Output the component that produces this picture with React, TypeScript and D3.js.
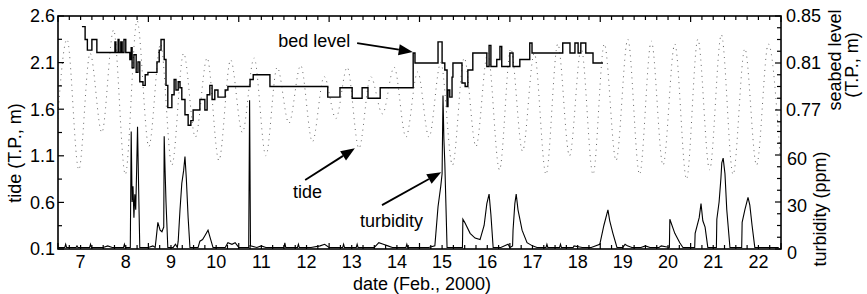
import React from 'react';
import * as d3 from 'd3';

// days of Feb. 2000 (label n sits at noon of day n)
const DAY_LABELS = [7, 8, 9, 10, 11, 12, 13, 14, 15, 16, 17, 18, 19, 20, 21, 22];
const TIDE_TICKS = [0.1, 0.6, 1.1, 1.6, 2.1, 2.6];
const SEABED_TICKS = [0.77, 0.81, 0.85];
const TURB_TICKS = [0, 30, 60];

// tide extrema [day, m T.P.]
const TIDE = [
  [6.95, 1.2], [7.2, 2.35], [7.46, 0.95], [7.71, 2.2], [7.97, 1.35], [8.23, 2.45], [8.49, 0.9],
  [8.75, 2.55], [9.01, 1.2], [9.27, 2.3], [9.52, 1.0], [9.78, 2.2], [10.04, 1.3], [10.3, 2.15],
  [10.56, 1.05], [10.82, 2.13], [11.08, 1.35], [11.34, 2.15], [11.6, 1.1], [11.85, 2.05],
  [12.11, 1.45], [12.37, 2.07], [12.63, 1.25], [12.89, 1.95], [13.15, 1.5], [13.4, 2.05],
  [13.66, 1.18], [13.92, 1.95], [14.18, 1.55], [14.44, 2.05], [14.7, 1.3], [14.96, 2.0],
  [15.21, 1.3], [15.47, 2.1], [15.73, 1.0], [15.99, 2.15], [16.25, 1.2], [16.51, 2.2],
  [16.77, 0.95], [17.02, 2.25], [17.28, 1.15], [17.54, 2.2], [17.8, 0.9], [18.06, 2.3],
  [18.32, 1.1], [18.58, 2.25], [18.84, 0.9], [19.09, 2.3], [19.35, 1.05], [19.61, 2.35],
  [19.87, 0.9], [20.13, 2.33], [20.39, 1.0], [20.65, 2.3], [20.91, 0.85], [21.16, 2.35],
  [21.42, 0.95], [21.68, 2.4], [21.94, 0.9], [22.2, 2.25], [22.46, 1.0], [22.72, 2.3], [22.98, 1.1],
];

// seabed level [day, m T.P.], stepped
const BED = [
  [7.53, 0.841], [7.6, 0.83], [7.65, 0.821], [7.75, 0.83], [7.86, 0.819], [8.26, 0.828],
  [8.28, 0.819], [8.33, 0.83], [8.35, 0.819], [8.39, 0.828], [8.42, 0.819], [8.46, 0.83],
  [8.5, 0.819], [8.59, 0.813], [8.62, 0.823], [8.64, 0.806], [8.68, 0.817], [8.73, 0.802],
  [8.77, 0.811], [8.81, 0.794], [8.88, 0.791], [8.93, 0.8], [8.99, 0.802], [9.19, 0.811],
  [9.24, 0.821], [9.28, 0.83], [9.35, 0.813], [9.39, 0.791], [9.43, 0.772], [9.52, 0.783],
  [9.57, 0.796], [9.61, 0.787], [9.66, 0.794], [9.7, 0.789], [9.74, 0.779], [9.81, 0.766],
  [9.88, 0.757], [9.94, 0.761], [9.99, 0.77], [10.14, 0.779], [10.25, 0.77], [10.3, 0.783],
  [10.36, 0.791], [10.41, 0.779], [10.47, 0.787], [10.54, 0.781], [10.7, 0.787], [10.76, 0.79],
  [11.25, 0.796], [11.32, 0.8], [11.69, 0.79], [12.97, 0.781], [13.24, 0.789], [13.51, 0.78],
  [13.73, 0.789], [13.86, 0.78], [14.13, 0.789], [14.86, 0.8185], [14.9, 0.81], [15.41, 0.828],
  [15.5, 0.81], [15.56, 0.804], [15.61, 0.773], [15.63, 0.787], [15.67, 0.781], [15.72, 0.798],
  [15.74, 0.81], [15.94, 0.793], [16.01, 0.79], [16.07, 0.804], [16.18, 0.8185], [16.49, 0.807],
  [16.54, 0.825], [16.58, 0.807], [16.71, 0.813], [16.78, 0.824], [16.82, 0.807], [17.0, 0.8185],
  [17.07, 0.807], [17.22, 0.813], [17.44, 0.827], [17.49, 0.8185], [18.17, 0.827], [18.33, 0.8185],
  [18.44, 0.827], [18.51, 0.8185], [18.57, 0.827], [18.68, 0.8185], [18.84, 0.81], [19.06, 0.81],
];

// turbidity [day, ppm]
const TURB = [
  [7.0, 1], [7.15, 1], [7.17, 3], [7.19, 1], [7.4, 1], [7.42, 2], [7.44, 1], [7.7, 1], [7.72, 3],
  [7.74, 1], [8.0, 1], [8.1, 2], [8.2, 1], [8.45, 1], [8.47, 3], [8.49, 1],
  [8.6, 1], [8.62, 75], [8.64, 30], [8.66, 40], [8.68, 20], [8.7, 35], [8.72, 25], [8.74, 50],
  [8.76, 78], [8.79, 30], [8.81, 1],
  [9.0, 1], [9.1, 2], [9.15, 1], [9.17, 6], [9.21, 17], [9.26, 12], [9.3, 11], [9.34, 14],
  [9.35, 72], [9.37, 50], [9.39, 30], [9.43, 1],
  [9.55, 1], [9.6, 3], [9.64, 1], [9.66, 5], [9.7, 25], [9.74, 42], [9.78, 50], [9.81, 59],
  [9.84, 45], [9.88, 20], [9.92, 1],
  [10.1, 1], [10.14, 5], [10.2, 6], [10.26, 9], [10.32, 12], [10.37, 7], [10.43, 1],
  [10.7, 1], [10.76, 4], [10.85, 3], [10.92, 4], [11.0, 1],
  [11.22, 1], [11.24, 95], [11.26, 2], [11.4, 1], [11.5, 2], [11.6, 1],
  [12.0, 1], [12.02, 4], [12.04, 1], [12.3, 1], [12.32, 3], [12.34, 1], [12.6, 1], [12.8, 2],
  [12.9, 3], [13.0, 1], [13.3, 1], [13.32, 3], [13.34, 1], [13.6, 1], [13.62, 3], [13.64, 1],
  [14.0, 1], [14.1, 4], [14.2, 3], [14.3, 2], [14.4, 1], [14.7, 1], [14.72, 3], [14.74, 1],
  [15.0, 1], [15.2, 1],
  [15.34, 2], [15.41, 27], [15.47, 40], [15.5, 48], [15.52, 98], [15.54, 70], [15.56, 55], [15.61, 1],
  [15.8, 1], [15.95, 1], [15.96, 19], [16.0, 17], [16.12, 10], [16.23, 7], [16.34, 6], [16.43, 15],
  [16.49, 29], [16.54, 35], [16.58, 22], [16.63, 1],
  [16.8, 1], [16.96, 3], [17.0, 1], [17.06, 2], [17.07, 12], [17.11, 29], [17.14, 35], [17.18, 25],
  [17.27, 12], [17.38, 4], [17.5, 2], [17.6, 1],
  [17.8, 1], [17.82, 3], [17.84, 1], [18.1, 1], [18.12, 3], [18.14, 1], [18.4, 1], [18.42, 2],
  [18.6, 1], [18.8, 1],
  [18.99, 3], [19.08, 15], [19.17, 25], [19.21, 18], [19.28, 10], [19.37, 1],
  [19.5, 1], [19.55, 3], [19.6, 2], [19.7, 1], [19.9, 1], [20.0, 2], [20.1, 1], [20.3, 1], [20.35, 2],
  [20.53, 1], [20.54, 19], [20.65, 10], [20.76, 4], [20.83, 1],
  [21.09, 1], [21.1, 10], [21.19, 20], [21.23, 29], [21.27, 18], [21.32, 14], [21.38, 1],
  [21.57, 1], [21.58, 19], [21.63, 30], [21.67, 45], [21.69, 55], [21.72, 58], [21.76, 48],
  [21.8, 25], [21.87, 1],
  [22.13, 1], [22.14, 17], [22.2, 25], [22.27, 33], [22.31, 28], [22.36, 15], [22.42, 1],
  [22.6, 1], [22.8, 1], [22.95, 1],
];

const W = 867;
const H = 294;
const M = { left: 58, right: 781, top: 16, bottom: 249 };
const FONT = '"Liberation Sans", Arial, Helvetica, sans-serif';

const x = d3.scaleLinear().domain([7, 23]).range([M.left, M.right]);
const yTide = d3.scaleLinear().domain([0.1, 2.6]).range([M.bottom, M.top]);
const ySeabed = d3.scaleLinear().domain([0.77, 0.85]).range([110, M.top]);
const yTurb = d3.scaleLinear().domain([0, 60]).range([M.bottom, 155]);

function Arrow({ x1, y1, x2, y2 }) {
  const a = Math.atan2(y2 - y1, x2 - x1);
  const len = 14, half = 5.5;
  const bx = x2 - len * Math.cos(a), by = y2 - len * Math.sin(a);
  const p1 = [bx + half * Math.sin(a), by - half * Math.cos(a)];
  const p2 = [bx - half * Math.sin(a), by + half * Math.cos(a)];
  return (
    <g>
      <line x1={x1} y1={y1} x2={bx} y2={by} stroke="#000" strokeWidth={1.8} />
      <polygon points={`${x2},${y2} ${p1.join(',')} ${p2.join(',')}`} fill="#000" />
    </g>
  );
}

export default function App() {
  const tideLine = d3.line().x((d) => x(d[0])).y((d) => yTide(d[1])).curve(d3.curveMonotoneX);
  const bedLine = d3.line().x((d) => x(d[0])).y((d) => ySeabed(d[1])).curve(d3.curveStepAfter);
  const turbLine = d3.line().x((d) => x(d[0])).y((d) => yTurb(d[1]));

  const sixHours = d3.range(7, 23.001, 0.25);
  const tideMinor = d3.range(0.1, 2.6001, 0.25);
  const seabedMinor = d3.range(0.76, 0.8501, 0.01);
  const turbMinor = d3.range(0, 75.01, 7.5);

  const fs = 18;

  return (
    <div style={{ position: 'absolute', left: 0, top: 0 }}>
      <svg width={W} height={H} style={{ display: 'block', background: '#fff' }}>
        <defs>
          <clipPath id="plot">
            <rect x={M.left} y={M.top} width={M.right - M.left} height={M.bottom - M.top} />
          </clipPath>
        </defs>

        <g clipPath="url(#plot)">
          <path d={tideLine(TIDE)} fill="none" stroke="#666" strokeWidth={1} strokeDasharray="1 4.5" />
          <path d={turbLine(TURB)} fill="none" stroke="#000" strokeWidth={1.1} />
          <path d={bedLine(BED)} fill="none" stroke="#000" strokeWidth={1.4} />
        </g>

        {/* frame */}
        <rect x={M.left} y={M.top} width={M.right - M.left} height={M.bottom - M.top}
          fill="none" stroke="#000" strokeWidth={1.6} />

        {/* x ticks, top & bottom, every 6 h */}
        {sixHours.map((d, i) => {
          const len = Math.abs(d - Math.round(d)) < 1e-6 && Math.round(d) % 2 === 1 ? 6 : 4;
          return (
            <g key={'xt' + i}>
              <line x1={x(d)} x2={x(d)} y1={M.top} y2={M.top + len} stroke="#000" strokeWidth={1.2} />
              <line x1={x(d)} x2={x(d)} y1={M.bottom} y2={M.bottom - len} stroke="#000" strokeWidth={1.2} />
            </g>
          );
        })}
        {DAY_LABELS.map((d) => (
          <text key={'xl' + d} x={x(d + 0.5)} y={268} textAnchor="middle" fontFamily={FONT} fontSize={fs}>{d}</text>
        ))}

        {/* left tide axis */}
        {tideMinor.map((v, i) => (
          <line key={'tm' + i} x1={M.left} x2={M.left + (i % 2 === 0 ? 6 : 4)} y1={yTide(v)} y2={yTide(v)} stroke="#000" strokeWidth={1.2} />
        ))}
        {TIDE_TICKS.map((v) => (
          <text key={'tl' + v} x={M.left - 3} y={yTide(v)} dy="0.35em" textAnchor="end" fontFamily={FONT} fontSize={fs}>{v.toFixed(1)}</text>
        ))}

        {/* right seabed axis */}
        {seabedMinor.map((v, i) => (
          <line key={'sm' + i} x1={M.right} x2={M.right - (SEABED_TICKS.some((s) => Math.abs(s - v) < 1e-6) ? 6 : 4)}
            y1={ySeabed(v)} y2={ySeabed(v)} stroke="#000" strokeWidth={1.2} />
        ))}
        {SEABED_TICKS.map((v) => (
          <text key={'sl' + v} x={M.right + 5} y={ySeabed(v)} dy="0.35em" fontFamily={FONT} fontSize={fs}>{v.toFixed(2)}</text>
        ))}

        {/* right turbidity axis */}
        {turbMinor.map((v, i) => (
          <line key={'um' + i} x1={M.right} x2={M.right - (i % 4 === 0 ? 6 : 4)}
            y1={yTurb(v)} y2={yTurb(v)} stroke="#000" strokeWidth={1.2} />
        ))}
        {TURB_TICKS.map((v) => (
          <text key={'ul' + v} x={M.right + 6} y={yTurb(v) + 4} dy="0.35em" fontFamily={FONT} fontSize={fs}>{v}</text>
        ))}

        {/* axis titles */}
        <text transform={`translate(21,${153}) rotate(-90)`} textAnchor="middle" fontFamily={FONT} fontSize={fs}>tide (T.P., m)</text>
        <text x={422} y={290} textAnchor="middle" fontFamily={FONT} fontSize={fs}>date (Feb., 2000)</text>
        <text transform={`translate(841,60) rotate(-90)`} textAnchor="middle" fontFamily={FONT} fontSize={fs}>seabed level</text>
        <text transform={`translate(858,65) rotate(-90)`} textAnchor="middle" fontFamily={FONT} fontSize={fs}>(T.P., m)</text>
        <text transform={`translate(826,209) rotate(-90)`} textAnchor="middle" fontFamily={FONT} fontSize={fs}>turbidity (ppm)</text>

        {/* annotations */}
        <text x={x(13.47)} y={47} textAnchor="end" fontFamily={FONT} fontSize={fs}>bed level</text>
        <Arrow x1={x(13.62)} y1={ySeabed(0.827)} x2={x(14.85)} y2={ySeabed(0.8194)} />
        <text x={x(12.52)} y={198} textAnchor="middle" fontFamily={FONT} fontSize={fs}>tide</text>
        <Arrow x1={x(12.47)} y1={yTide(0.84)} x2={x(13.57)} y2={yTide(1.18)} />
        <text x={x(14.38)} y={227} textAnchor="middle" fontFamily={FONT} fontSize={fs}>turbidity</text>
        <Arrow x1={x(14.17)} y1={yTurb(28)} x2={x(15.48)} y2={yTurb(49)} />
      </svg>
    </div>
  );
}
